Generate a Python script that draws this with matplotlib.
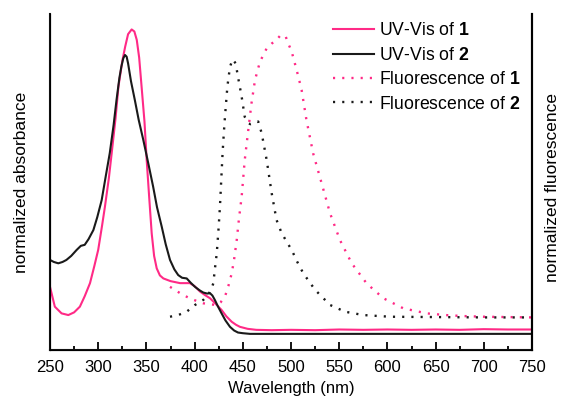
import matplotlib
matplotlib.use("Agg")
import matplotlib.pyplot as plt
from matplotlib.ticker import MultipleLocator

plt.rcParams['font.family'] = ['Liberation Sans', 'DejaVu Sans']
plt.rcParams['mathtext.fontset'] = 'custom'
plt.rcParams['mathtext.rm'] = 'Liberation Sans'
plt.rcParams['mathtext.bf'] = 'Liberation Sans:bold'

# UV-Vis of 1
uv1_x = [250, 255, 262, 269, 275, 281, 286, 291.5, 296, 300, 304, 307, 311, 314, 318, 321, 325, 328, 331,
         334.7, 337.5, 340, 342.5, 345, 348, 350.3, 353, 355.5, 358, 360.7, 364, 367.6, 375, 384.9, 395,
         400, 405.6, 411, 416, 422, 428, 433, 438.5, 443, 447, 455, 464, 480, 500, 525, 550, 575,
         600, 625, 650, 675, 700, 725, 750]
uv1_y = [0.188, 0.129, 0.109, 0.104, 0.112, 0.129, 0.16, 0.199, 0.25, 0.298, 0.37, 0.427, 0.51, 0.586,
         0.69, 0.784, 0.86, 0.903, 0.94, 0.954, 0.948, 0.923, 0.87, 0.784, 0.68, 0.565, 0.45, 0.347,
         0.28, 0.243, 0.222, 0.213, 0.205, 0.199, 0.199, 0.19, 0.174, 0.163, 0.154, 0.137, 0.119, 0.1,
         0.084, 0.075, 0.069, 0.063, 0.06, 0.059, 0.06, 0.059, 0.061, 0.06, 0.061, 0.06, 0.061, 0.06,
         0.062, 0.061, 0.061]

# UV-Vis of 2
uv2_x = [250, 254, 258.6, 263, 267, 272, 277.7, 282, 286, 290, 295, 299, 303.6, 308, 312, 316, 319, 322,
         324, 326, 327.8, 329.5, 331, 334, 338, 342, 346.8, 352, 357, 361, 365.9, 370, 374.5, 379, 383,
         387, 391.8, 396, 400.4, 405, 409, 413, 416, 418.5, 421, 424.5, 428, 432, 436.7, 441, 445,
         450, 457.5, 500, 550, 600, 650, 700, 750]
uv2_y = [0.268, 0.262, 0.258, 0.262, 0.268, 0.28, 0.298, 0.31, 0.313, 0.33, 0.357, 0.395, 0.446, 0.52,
         0.586, 0.67, 0.744, 0.81, 0.843, 0.868, 0.878, 0.873, 0.853, 0.8, 0.744, 0.685, 0.625, 0.555,
         0.486, 0.425, 0.367, 0.315, 0.268, 0.24, 0.223, 0.215, 0.213, 0.2, 0.188, 0.178, 0.171, 0.168,
         0.169, 0.162, 0.149, 0.128, 0.109, 0.088, 0.069, 0.058, 0.052, 0.05, 0.048, 0.048, 0.048,
         0.048, 0.048, 0.048, 0.048]

# Fluorescence of 1
fl1_x = [374.5, 380, 385, 390, 395, 402, 409, 416, 423, 427, 431.5, 435, 438.5, 441, 443.7, 446, 448.8,
         452, 455.7, 459, 462.7, 467.8, 474.8, 480, 485, 488.6, 492, 494.5, 497, 500.5, 504, 507.5, 511,
         516, 523, 531.8, 540.5, 550.8, 563, 578.5, 595.8, 616.5, 640.8, 660, 678.8, 700, 725, 750]
fl1_y = [0.188, 0.178, 0.169, 0.161, 0.154, 0.146, 0.139, 0.136, 0.134, 0.142, 0.159, 0.19, 0.228, 0.27,
         0.327, 0.39, 0.456, 0.565, 0.655, 0.734, 0.804, 0.858, 0.898, 0.912, 0.923, 0.935, 0.9375,
         0.933, 0.913, 0.89, 0.853, 0.815, 0.774, 0.685, 0.585, 0.496, 0.407, 0.327, 0.258, 0.198,
         0.154, 0.124, 0.109, 0.104, 0.101, 0.099, 0.098, 0.097]

# Fluorescence of 2
fl2_x = [374.5, 383, 391.8, 400.4, 409, 414, 417, 419.4, 421, 423, 424.7, 426.3, 427.7, 429, 430.3,
         431.5, 434, 436.7, 439.5, 442.6, 445, 448.8, 452, 455.7, 458, 461, 466, 469.6, 474.8, 480,
         485, 490, 495.5, 500.7, 506, 512.8, 525, 540.5, 556, 575, 602.7, 650, 700, 750]
fl2_y = [0.099, 0.104, 0.114, 0.134, 0.149, 0.164, 0.18, 0.198, 0.24, 0.288, 0.355, 0.427, 0.51, 0.585,
         0.645, 0.694, 0.784, 0.843, 0.865, 0.853, 0.813, 0.754, 0.694, 0.675, 0.672, 0.675, 0.68,
         0.645, 0.565, 0.466, 0.387, 0.35, 0.322, 0.298, 0.265, 0.228, 0.179, 0.134, 0.114, 0.104,
         0.099, 0.098, 0.097, 0.097]

labels = ["UV-Vis of $\\mathbf{1}$", "UV-Vis of $\\mathbf{2}$",
          "Fluorescence of $\\mathbf{1}$", "Fluorescence of $\\mathbf{2}$"]

pink = '#ff2a86'
black = '#1a1a1a'

fig = plt.figure(figsize=(5.63, 4.07), dpi=100)
ax = fig.add_axes([50/563, 57/407, 482/563, 336/407])

ax.plot(uv1_x, uv1_y, color=pink, lw=1.5, label=labels[0])
ax.plot(uv2_x, uv2_y, color=black, lw=1.5, label=labels[1])
ax.plot(fl1_x, fl1_y, color=pink, lw=1.7, linestyle=(0, (0.9, 3.0)), label=labels[2])
ax.plot(fl2_x, fl2_y, color=black, lw=1.7, linestyle=(0, (0.9, 3.0)), label=labels[3])

ax.set_xlim(250, 750)
ax.set_ylim(0, 1)
ax.xaxis.set_major_locator(MultipleLocator(50))
ax.xaxis.set_minor_locator(MultipleLocator(25))
ax.set_yticks([])
ax.tick_params(axis='x', which='major', direction='in', length=6, width=1.3, labelsize=12, pad=7.5, top=False)
ax.tick_params(axis='x', which='minor', direction='in', length=3, width=1.3, top=False)
ax.spines['top'].set_visible(False)
for s in ['left', 'right', 'bottom']:
    ax.spines[s].set_linewidth(1.5)
    ax.spines[s].set_color('#111111')

ax.set_xlabel('Wavelength (nm)', fontsize=12)
ax.xaxis.set_label_coords(0.5, (350 - 381) / 336)
ax.set_ylabel('normalized absorbance', fontsize=12.5)
ax.yaxis.set_label_coords((29 - 50) / 482, 0.5)
ax2 = ax.twinx()
ax2.set_yticks([])
ax2.spines['top'].set_visible(False)
ax2.spines['right'].set_linewidth(1.5)
ax2.set_ylabel('normalized fluorescence', fontsize=12.5)
ax2.yaxis.set_label_coords((545 - 50) / 482, 0.485)

leg = ax.legend(loc='upper left', bbox_to_anchor=((333 - 50) / 482, 0.975), frameon=False,
                fontsize=12.7, handlelength=2.3, handletextpad=0.3, labelspacing=0.42,
                borderpad=0, borderaxespad=0)

fig.savefig('out.png', dpi=100)
